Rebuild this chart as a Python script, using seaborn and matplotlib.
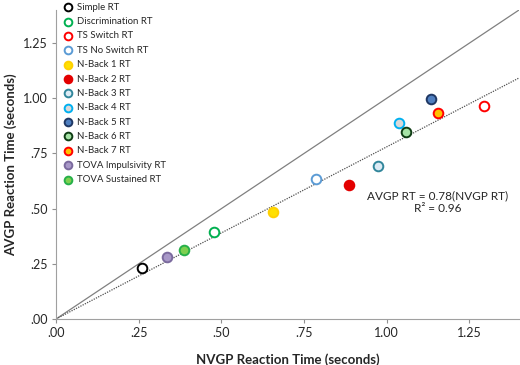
import pandas as pd
import matplotlib
matplotlib.use('Agg')
import matplotlib.pyplot as plt
from matplotlib.ticker import FuncFormatter
import seaborn as sns

#------------------------------------------
labels=['Simple RT', 'Discrimination RT', 'TS Switch RT', 'TS No Switch RT',
        'N-Back 1 RT', 'N-Back 2 RT', 'N-Back 3 RT', 'N-Back 4 RT', 'N-Back 5 RT',
        'N-Back 6 RT', 'N-Back 7 RT', 'TOVA Impulsivity RT', 'TOVA Sustained RT']
nvgp=[0.259, 0.478, 1.295, 0.787, 0.657, 0.887, 0.975, 1.036, 1.135, 1.057, 1.155, 0.337, 0.386]
avgp=[0.233, 0.392, 0.964, 0.635, 0.483, 0.605, 0.695, 0.886, 0.995, 0.847, 0.935, 0.281, 0.314]
face=['white', 'white', 'white', 'white', '#FFE000', '#E30000', '#DCEBF5', '#D9D9D9',
      '#4F7FC0', '#A6E3A6', '#FFC000', '#A898C8', '#7ED050']
edge=['black', '#00B050', '#FF0000', '#5B9BD5', '#FFD000', '#E30000', '#31869B', '#00B0F0',
      '#1F3864', '#0F3D14', '#FF0000', '#7B6A9E', '#27B04A']
slope=0.78
r2=0.96

tick_vals=[0, 0.25, 0.5, 0.75, 1.0, 1.25]

#####################################################
sns.set_style('white')
plt.rcParams['font.family']=['Lato', 'DejaVu Sans']

df=pd.DataFrame({'label': labels, 'nvgp': nvgp, 'avgp': avgp, 'face': face, 'edge': edge})

fig=plt.figure(figsize=(5.2, 3.65), dpi=100)
ax=fig.add_axes([56/520, 46/365, 463/520, 309/365])

#reference lines
ax.axline((0, 0), slope=1, color='#808080', lw=0.9, zorder=1)
ax.axline((0, 0), slope=slope, color='#505050', lw=0.9, ls=(0, (1, 1)), zorder=1)

for _, row in df.iterrows():
    sns.scatterplot(x=[row['nvgp']], y=[row['avgp']], ax=ax, s=48, color=row['face'],
                    edgecolor=row['edge'], linewidth=1.4, label=row['label'], zorder=3)

ax.set_xlim(0, 1.4)
ax.set_ylim(0, 1.4)
ax.set_xticks(tick_vals)
ax.set_yticks(tick_vals)
fmt=FuncFormatter(lambda v, p: f'{v:.2f}'.lstrip('0') if v < 1 else f'{v:.2f}')
ax.xaxis.set_major_formatter(fmt)
ax.yaxis.set_major_formatter(fmt)
ax.tick_params(axis='both', labelsize=9, direction='out', length=3, width=0.8,
               color='#909090', pad=3, left=True, bottom=True)
for s in ['top', 'right']:
    ax.spines[s].set_visible(False)
for s in ['left', 'bottom']:
    ax.spines[s].set_color('#a0a0a0')
    ax.spines[s].set_linewidth(0.8)

ax.set_xlabel('NVGP Reaction Time (seconds)', fontsize=9.5, weight='bold', labelpad=10)
ax.set_ylabel('AVGP Reaction Time (seconds)', fontsize=9.5, weight='bold', labelpad=4)

ax.text(1.155, 0.53, f'AVGP RT = {slope}(NVGP RT)\nR² = {r2}', ha='center', va='center',
        fontsize=8.5, linespacing=1.15)

leg=ax.legend(loc='upper left', bbox_to_anchor=(0.005, 1.036), frameon=False, fontsize=6.9,
              handletextpad=0.35, labelspacing=0.56, borderaxespad=0, handlelength=1.2,
              markerscale=0.8)

plt.savefig('out.png', dpi=100)
plt.close()
